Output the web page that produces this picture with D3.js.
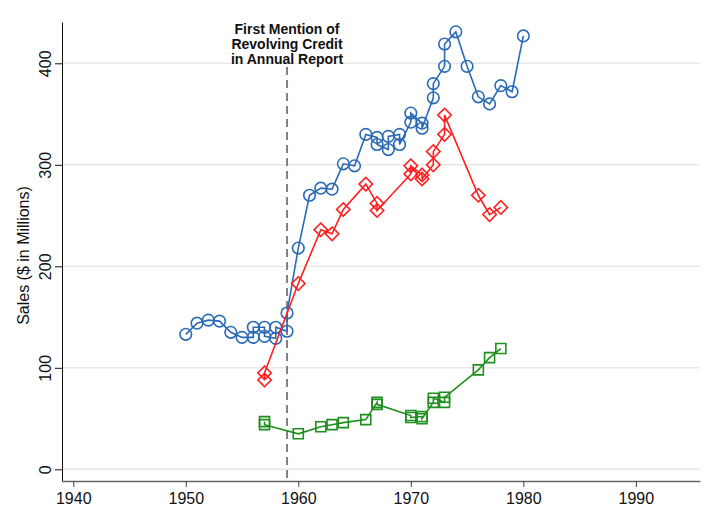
<!DOCTYPE html>
<html>
<head>
<meta charset="utf-8">
<script src="https://cdn.jsdelivr.net/npm/d3@7"></script>
<style>
  body { margin: 0; background: #fff; }
  text { font-family: "Liberation Sans", Arial, Helvetica, sans-serif; fill: #111; }
</style>
</head>
<body>
<svg></svg>
<script>
/*
*  DATA
*/

// blue (circles)
let blueYears = [1950,1951,1952,1953,1954,1955,1956,1956,1957,1957,1958,1958,1959,1959,1960,1961,1962,1963,1964,1965,
                 1966,1967,1967,1968,1968,1969,1969,1970,1970,1971,1971,1972,1972,1973,1973,1974,1975,1976,1977,1978,1979,1980]
let blueSales = [133,144,147,146,135,130,130,140,140,131,129,140,136,154,218,270,277,276,301,299,
                 330,327,320,315,328,330,320,342,351,341,336,366,380,397,419,431,397,367,360,378,372,427]

// red (diamonds)
let redYears = [1957,1957,1960,1962,1963,1964,1966,1967,1967,1970,1970,1971,1971,1972,1972,1973,1973,1976,1977,1978]
let redSales = [88,95,183,236,232,256,281,262,255,291,299,290,286,300,313,330,349,270,251,258]

// green (squares)
let greenYears = [1957,1957,1960,1962,1963,1964,1966,1967,1967,1970,1970,1971,1971,1972,1972,1973,1973,1976,1977,1978]
let greenSales = [47,44,35,42,44,46,49,66,64,53,51,52,50,66,70,66,71,98,110,119]

let xTicks = [1940,1950,1960,1970,1980,1990]
let yTicks = [0,100,200,300,400]
let creditYear = 1959
let noteLines = ['First Mention of', 'Revolving Credit', 'in Annual Report']
let yTitle = 'Sales ($ in Millions)'

/*
*  RUN
*/

let width = 713,
    height = 531

let svg = d3.select('svg').attr('width', width).attr('height', height)

let x = d3.scaleLinear().domain([1939, 1995.7]).range([62, 700])
let y = d3.scaleLinear().domain([-11.5, 440.7]).range([481, 22])

// gridlines
svg.append('g').selectAll('line')
  .data(yTicks)
  .enter()
  .append('line')
  .attr('x1', 62).attr('x2', 700)
  .attr('y1', d => y(d)).attr('y2', d => y(d))
  .attr('stroke', '#e8e8e8')
  .attr('stroke-width', 1.5)

// y axis
let yAxis = svg.append('g')
  .attr('transform', 'translate(62,0)')
  .call(d3.axisLeft(y).tickValues(yTicks).tickSize(7).tickSizeOuter(0).tickFormat(d3.format('d')))
yAxis.select('.domain').attr('stroke', '#111')
yAxis.selectAll('.tick line').attr('stroke', '#111')
yAxis.selectAll('.tick text')
  .attr('font-size', 16)
  .attr('transform', 'rotate(-90)')
  .attr('x', 0).attr('y', -11)
  .attr('dy', 0)
  .attr('text-anchor', 'middle')

// x axis
let xAxis = svg.append('g')
  .attr('transform', 'translate(0,481)')
  .call(d3.axisBottom(x).tickValues(xTicks).tickSize(6).tickSizeOuter(0).tickFormat(d3.format('d')))
xAxis.select('.domain').attr('stroke', '#666').attr('stroke-width', 1.6)
xAxis.selectAll('.tick line').attr('stroke', '#444')
xAxis.selectAll('.tick text').attr('font-size', 16).attr('y', 12)

svg.append('text')
  .attr('transform', `translate(29,${(y.range()[0] + y.range()[1]) / 2 + 4}) rotate(-90)`)
  .attr('text-anchor', 'middle')
  .attr('font-size', 16)
  .text(yTitle)

// dashed line + note
svg.append('line')
  .attr('x1', x(creditYear)).attr('x2', x(creditYear))
  .attr('y1', 67).attr('y2', 481)
  .attr('stroke', '#808080')
  .attr('stroke-width', 2)
  .attr('stroke-dasharray', '8,5')

svg.append('g').selectAll('text')
  .data(noteLines)
  .enter()
  .append('text')
  .attr('x', x(creditYear))
  .attr('y', (d, i) => 34 + i * 15)
  .attr('text-anchor', 'middle')
  .attr('font-size', 14)
  .attr('font-weight', 'bold')
  .text(d => d)

drawSeries(blueYears, blueSales, '#2a6ab5', 'circle')
drawSeries(redYears, redSales, '#ff1f1f', 'diamond')
drawSeries(greenYears, greenSales, '#1f8f1f', 'square')


/*
*  HELPERS
*/

function drawSeries(years, sales, color, shape){
  let pts = years.map((yr, i) => [yr, sales[i]])
  let line = d3.line().x(d => x(d[0])).y(d => y(d[1]))
  let g = svg.append('g')
  g.append('path')
    .attr('d', line(pts))
    .attr('fill', 'none')
    .attr('stroke', color)
    .attr('stroke-width', 1.6)

  let sym = d3.symbol()
    .type(shape == 'circle' ? d3.symbolCircle : d3.symbolSquare)
    .size(shape == 'circle' ? 105 : shape == 'diamond' ? 90 : 100)

  g.selectAll('path.mark')
    .data(pts)
    .enter()
    .append('path')
    .attr('class', 'mark')
    .attr('d', sym)
    .attr('transform', d => `translate(${x(d[0])},${y(d[1])})` + (shape == 'diamond' ? ' rotate(45)' : ''))
    .attr('fill', 'none')
    .attr('stroke', color)
    .attr('stroke-width', 1.6)
}
</script>
</body>
</html>
